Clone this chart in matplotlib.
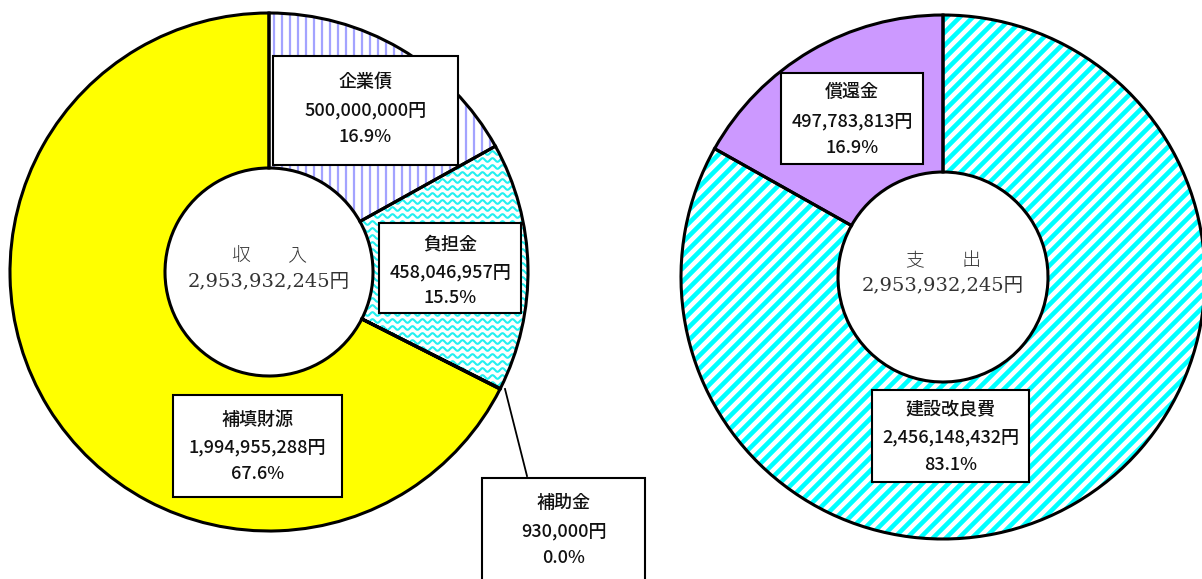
import numpy as np
import matplotlib
matplotlib.use("Agg")
import matplotlib.pyplot as plt
from matplotlib.patches import Rectangle
from matplotlib.lines import Line2D

# ---- data ----
income_labels = ["企業債", "負担金", "補助金", "補填財源"]
income_values = [500000000, 458046957, 930000, 1994955288]
income_pct = [16.9, 15.5, 0.0, 67.6]
income_total = 2953932245
expense_labels = ["建設改良費", "償還金"]
expense_values = [2456148432, 497783813]
expense_pct = [83.1, 16.9]
expense_total = 2953932245

W, H = 1202, 579
fig = plt.figure(figsize=(W / 100, H / 100), dpi=100)
ax = fig.add_axes([0, 0, 1, 1])

LABEL_FONT = ["Noto Sans CJK JP", "DejaVu Sans"]
CENTER_FONT = ["DejaVu Serif", "Noto Sans CJK JP"]


def py(y):
    return H - y


def fmt_label(name, v, pct):
    return name, f"{v:,}円", f"{pct:.1f}%"


def draw_donut(values, center, R, r, faces):
    wedges, _ = ax.pie(values, startangle=90, counterclock=False, center=center,
                       radius=R, colors=faces,
                       wedgeprops=dict(width=R - r, linewidth=0, edgecolor="none"))
    for w in wedges:
        w.set_zorder(1)
    edges, _ = ax.pie(values, startangle=90, counterclock=False, center=center,
                      radius=R,
                      wedgeprops=dict(width=R - r, linewidth=2.2, edgecolor="black",
                                      fill=False))
    for w in edges:
        w.set_zorder(4)
    return wedges


def vertical_pattern(wedge, cx, cy, R, step=8, color="#a3a3ff", lw=1.6):
    for x in np.arange(cx - R, cx + R, step):
        ln = Line2D([x, x], [cy - R, cy + R], color=color, lw=lw, zorder=2)
        ax.add_line(ln)
        ln.set_clip_path(wedge)


def wave_pattern(wedge, cx, cy, R, step=7, period=10, amp=1.8, color="#22f0f0", lw=1.5):
    xs = np.linspace(cx - R, cx + R, 2000)
    for y0 in np.arange(cy - R, cy + R, step):
        ys = y0 + amp * np.sin(2 * np.pi * xs / period)
        ln = Line2D(xs, ys, color=color, lw=lw, zorder=2)
        ax.add_line(ln)
        ln.set_clip_path(wedge)


def diag_pattern(wedge, cx, cy, R, step=13, color="#00ffff", lw=3.3):
    for c in np.arange(-2 * R, 2 * R, step):
        x0, x1 = cx - R, cx + R
        ln = Line2D([x0, x1], [cy + (x0 - cx) + c, cy + (x1 - cx) + c],
                    color=color, lw=lw, zorder=2, solid_capstyle="butt")
        ax.add_line(ln)
        ln.set_clip_path(wedge)


def box(x0, y0, x1, y1, lines, ys):
    rect = Rectangle((x0, py(y1)), x1 - x0, y1 - y0, facecolor="white",
                     edgecolor="black", linewidth=1.5, zorder=6)
    ax.add_patch(rect)
    xc = (x0 + x1) / 2
    for t, y in zip(lines, ys):
        ax.text(xc, py(y), t, ha="center", va="center", fontsize=13,
                family=LABEL_FONT, fontweight="medium", color="#111111", zorder=7)


# ---- left donut (収入) ----
lcx, lcy, lR, lr = 269, py(272), 259, 104
lw_ = draw_donut(income_values, (lcx, lcy), lR, lr,
                 ["white", "white", "#00ffff", "#ffff00"])
vertical_pattern(lw_[0], lcx, lcy, lR)
wave_pattern(lw_[1], lcx, lcy, lR)

# ---- right donut (支出) ----
rcx, rcy, rR, rr = 943, py(277), 262, 105
rw_ = draw_donut(expense_values, (rcx, rcy), rR, rr, ["white", "#cc99ff"])
diag_pattern(rw_[0], rcx, rcy, rR)

# ---- center texts ----
ax.text(lcx, py(256), "収　　入", ha="center", va="center", fontsize=13.5,
        family=["Noto Sans CJK JP"], color="#333333", fontweight="light", zorder=5)
ax.text(lcx, py(281), f"{income_total:,}円", ha="center", va="center", fontsize=14,
        family=CENTER_FONT, color="#333333", zorder=5)
ax.text(rcx, py(261), "支　　出", ha="center", va="center", fontsize=13.5,
        family=["Noto Sans CJK JP"], color="#333333", fontweight="light", zorder=5)
ax.text(rcx, py(285), f"{expense_total:,}円", ha="center", va="center", fontsize=14,
        family=CENTER_FONT, color="#333333", zorder=5)

# ---- label boxes ----
box(273, 56, 458, 165, fmt_label(income_labels[0], income_values[0], income_pct[0]), [82, 110, 137])
box(379, 223, 521, 313, fmt_label(income_labels[1], income_values[1], income_pct[1]), [244, 272, 298])
box(173, 395, 342, 497, fmt_label(income_labels[3], income_values[3], income_pct[3]), [420, 447, 474])
box(482, 478, 645, 600, fmt_label(income_labels[2], income_values[2], income_pct[2]), [503, 531, 558])
ax.add_line(Line2D([505, 527], [py(389), py(476)], color="black", lw=1.3, zorder=5))

box(781, 73, 923, 164, fmt_label(expense_labels[1], expense_values[1], expense_pct[1]), [92, 121, 148])
box(872, 390, 1029, 482, fmt_label(expense_labels[0], expense_values[0], expense_pct[0]), [410, 437, 465])

ax.set_xlim(0, W)
ax.set_ylim(0, H)
ax.set_aspect("equal")
ax.axis("off")
fig.savefig("out.png", dpi=100, facecolor="white")
